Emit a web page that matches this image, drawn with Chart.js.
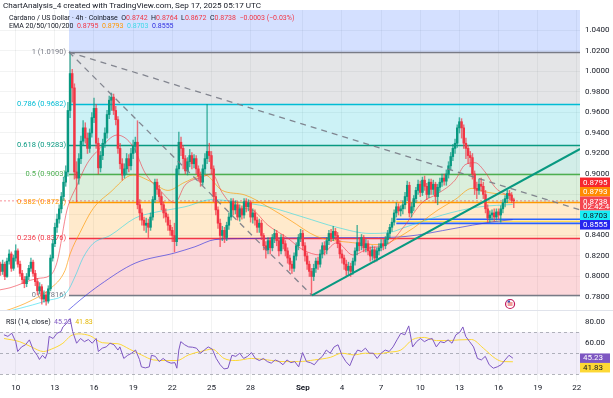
<!DOCTYPE html>
<html>
<head>
<meta charset="utf-8">
<script src="https://cdn.jsdelivr.net/npm/chart.js@4.4.1/dist/chart.umd.min.js"></script>
<style>
  body { margin: 0; background: #fff; overflow: hidden; font-family: Roboto, "Liberation Sans", sans-serif; }
  #wrap { position: relative; width: 613px; height: 398px; }
  #mainChart { position: absolute; left: 0; top: 0; }
  #rsiChart { position: absolute; left: 0; top: 310px; }
  .t { position: absolute; white-space: nowrap; color: #131722; line-height: 10px; }
  .dn { color: #f23645; }
</style>
</head>
<body>
<div id="wrap">
  <canvas id="mainChart" width="613" height="310"></canvas>
  <canvas id="rsiChart" width="613" height="88"></canvas>
  <div class="t" style="left:3px;top:0px;font-size:8.1px;">ChartAnalysis_4 created with TradingView.com, Sep 17, 2025 05:17 UTC</div>
  <div class="t" style="left:9px;top:12.5px;font-size:7px;">Cardano / US Dollar · 4h · Coinbase&nbsp; O<span class="dn">0.8742</span>&nbsp; H<span class="dn">0.8764</span>&nbsp; L<span class="dn">0.8672</span>&nbsp; C<span class="dn">0.8738</span>&nbsp; <span class="dn">−0.0003 (−0.03%)</span></div>
  <div class="t" style="left:9px;top:21px;font-size:7px;">EMA 20/50/100/200&nbsp; <span style="color:#f23645">0.8795</span>&nbsp; <span style="color:#ff9800">0.8793</span>&nbsp; <span style="color:#3fd8e8">0.8703</span>&nbsp; <span style="color:#2e2ee0">0.8555</span></div>
  <div class="t" style="left:6px;top:316.5px;font-size:7px;">RSI (14, close)&nbsp; <span style="color:#7e57c2">45.23</span>&nbsp; <span style="color:#e3b600">41.83</span></div>
</div>

<script>
// candle index 0 = Aug 10 00:00 (4h candles), first candle is index -7
const firstIndex = -7;
const firstOpen = 0.812;
const closes = [
  .805,.812,.800,.815,.822,.808,.818,.825,.812,.803,
  .797,.793,.800,.808,.814,.803,.795,.786,.790,.778,
  .782,.776,.788,.818,.832,.848,.856,.866,.878,.892,
  .902,.962,.998,.984,.902,.896,.915,.932,.945,.935,
  .925,.940,.955,.964,.930,.906,.918,.930,.940,.958,
  .972,.975,.962,.953,.925,.910,.899,.905,.915,.908,
  .920,.927,.931,.870,.862,.855,.850,.852,.848,.858,
  .875,.892,.885,.878,.870,.862,.858,.850,.845,.840,
  .834,.905,.931,.925,.915,.903,.912,.918,.910,.915,
  .905,.898,.892,.905,.915,.922,.918,.905,.878,.865,
  .852,.840,.845,.838,.850,.858,.873,.865,.870,.858,
  .866,.860,.873,.868,.872,.858,.862,.855,.848,.852,
  .840,.830,.826,.835,.828,.838,.842,.835,.825,.838,
  .832,.825,.818,.812,.808,.820,.830,.838,.842,.830,
  .820,.812,.805,.800,.808,.815,.812,.822,.830,.826,
  .835,.842,.838,.844,.840,.832,.822,.818,.812,.806,
  .810,.805,.815,.825,.833,.830,.838,.828,.832,.825,
  .820,.826,.818,.825,.828,.832,.830,.836,.842,.848,
  .853,.862,.868,.864,.866,.870,.878,.889,.862,.868,
  .876,.884,.890,.882,.894,.888,.880,.892,.885,.890,
  .878,.887,.892,.896,.893,.900,.908,.917,.925,.930,
  .945,.951,.945,.930,.925,.918,.916,.900,.886,.884,
  .890,.888,.880,.866,.857,.860,.862,.858,.863,.860,
  .866,.872,.876,.881,.879,.8742,.8738
];
const highs = [
  .814,.816,.814,.818,.826,.824,.821,.831,.827,.815,
  .806,.800,.803,.811,.818,.816,.806,.798,.794,.792,
  .786,.785,.791,.821,.836,.852,.861,.870,.882,.897,
  .908,.970,1.019,1.002,.988,.912,.920,.937,.952,.950,
  .940,.944,.960,.974,.968,.935,.922,.934,.945,.962,
  .976,.979,.978,.966,.956,.930,.915,.910,.920,.919,
  .925,.933,.936,.952,.875,.866,.858,.857,.856,.862,
  .878,.895,.895,.889,.882,.873,.866,.861,.855,.848,
  .852,.908,.941,.936,.928,.918,.916,.924,.921,.919,
  .918,.908,.902,.909,.920,.968,.930,.922,.908,.882,
  .868,.856,.849,.848,.853,.862,.876,.876,.874,.873,
  .870,.869,.876,.876,.875,.874,.866,.865,.858,.856,
  .855,.842,.834,.838,.838,.841,.846,.845,.838,.841,
  .841,.835,.828,.821,.815,.823,.833,.841,.846,.845,
  .833,.823,.815,.808,.812,.818,.819,.826,.833,.834,
  .838,.845,.846,.849,.847,.843,.835,.826,.821,.816,
  .814,.813,.818,.828,.850,.838,.841,.840,.836,.835,
  .829,.830,.829,.828,.832,.836,.836,.839,.845,.851,
  .857,.865,.872,.871,.869,.874,.882,.893,.892,.872,
  .879,.887,.894,.893,.897,.898,.891,.895,.895,.894,
  .892,.890,.896,.900,.900,.904,.912,.921,.929,.934,
  .948,.955,.954,.948,.935,.928,.922,.920,.903,.892,
  .895,.896,.892,.884,.870,.864,.865,.866,.866,.866,
  .869,.875,.879,.884,.884,.882,.8764
];
const lows = [
  .801,.802,.797,.799,.812,.805,.806,.815,.809,.800,
  .793,.789,.790,.797,.805,.800,.791,.782,.783,.773,
  .775,.772,.774,.786,.815,.829,.843,.852,.862,.874,
  .888,.898,.955,.970,.895,.873,.890,.910,.928,.930,
  .920,.921,.936,.950,.925,.900,.902,.914,.926,.935,
  .954,.962,.958,.948,.920,.905,.894,.896,.900,.902,
  .904,.915,.921,.866,.855,.850,.845,.843,.838,.845,
  .855,.872,.880,.873,.865,.857,.853,.845,.840,.834,
  .824,.830,.900,.918,.905,.900,.899,.907,.905,.906,
  .900,.893,.888,.889,.900,.910,.912,.900,.873,.860,
  .847,.829,.835,.833,.835,.846,.855,.860,.861,.855,
  .854,.856,.857,.863,.864,.853,.852,.850,.843,.843,
  .836,.826,.818,.822,.822,.825,.833,.830,.820,.822,
  .827,.820,.813,.806,.803,.805,.816,.826,.834,.826,
  .815,.807,.800,.782,.796,.804,.807,.809,.818,.821,
  .822,.831,.834,.835,.836,.828,.818,.813,.807,.801,
  .802,.800,.802,.811,.821,.825,.826,.824,.824,.821,
  .815,.816,.814,.815,.821,.825,.826,.827,.832,.838,
  .844,.850,.858,.860,.859,.861,.866,.874,.858,.858,
  .864,.872,.880,.878,.879,.884,.875,.877,.880,.880,
  .872,.870,.883,.888,.889,.889,.896,.904,.913,.920,
  .926,.940,.935,.925,.915,.910,.907,.895,.880,.876,
  .880,.883,.876,.862,.853,.853,.855,.854,.855,.856,
  .853,.862,.868,.872,.875,.872,.8672
];

// EMA lines as [candle index, price]
const ema20 = [[-7.2,.787],[-2.6,.789],[9.8,.798],[15.8,.801],[19,.814],[23.6,.865],[28.2,.889],[32.8,.910],[38.8,.925],[46.6,.938],[53.9,.927],[59.5,.901],[66.4,.884],[73.2,.872],[77.8,.889],[85.7,.897],[90.3,.900],[94.9,.882],[100.8,.868],[108.6,.865],[116,.850],[124.7,.838],[132.1,.826],[140,.821],[147.7,.833],[155,.821],[162.9,.828],[170.7,.831],[179,.850],[186.8,.872],[194.2,.881],[202,.894],[206.6,.909],[211.2,.911],[215.8,.902],[220.4,.887],[225,.8805],[228.5,.8795]];
const ema50 = [[-7.2,.765],[-2.6,.768],[6.6,.776],[15.8,.788],[22.7,.806],[25,.822],[29.6,.843],[35.5,.866],[43.4,.882],[53.9,.899],[61.8,.893],[70,.884],[77.8,.892],[87,.899],[94.9,.884],[105.4,.8795],[116,.868],[126.1,.855],[138.5,.839],[155,.833],[167.5,.831],[179,.842],[194.2,.865],[202,.875],[209.8,.886],[217.2,.882],[228.5,.8793]];
const ema100 = [[-7.2,.764],[2,.769],[13.5,.776],[23.6,.785],[27.3,.800],[30.9,.818],[35.5,.832],[43.4,.840],[54.9,.857],[62.7,.862],[77.8,.868],[90.3,.875],[100.8,.873],[116,.868],[132.1,.858],[147.7,.848],[162.9,.842],[172,.843],[179,.848],[185.9,.853],[199.7,.862],[213.5,.868],[228.5,.8703]];
const ema200 = [[23.6,.766],[29.6,.777],[38.8,.792],[54.9,.813],[73.2,.823],[82.4,.829],[91.6,.836],[105.4,.837],[139.9,.838],[162.9,.838],[179,.839],[202,.847],[218.1,.853],[228.5,.8555]];

// RSI (14) and its moving average, as [candle index, value]
const rsi = [[-5.4,67.5],[-3.6,66],[-1.8,69],[0,61],[0.9,51.6],[2.7,56],[4.5,58],[6.3,62.7],[8.1,53],[9.9,48],[10.9,44],[12.3,48],[13.6,45],[14.5,50],[15.4,66],[17.2,64],[19,69],[20.8,70.6],[21.7,75],[23.5,78.6],[25,83],[26.2,70.6],[28,59.5],[29.8,64],[31.6,61],[33.4,63],[35.2,59.5],[37,64],[38,51.6],[39.8,54.8],[41.6,56],[43.4,59.5],[45.2,58],[47,53],[47.9,56],[49.7,45],[51.5,48],[53.3,50],[55.1,53],[56.9,44],[57.8,37],[59.6,36],[61.4,37],[62.4,48],[64.2,47],[66,42],[67.8,45],[69.6,42],[71.4,40.5],[73.2,41],[74.1,35.7],[75,53],[75.9,61],[77.7,58],[79.5,56],[81.3,55.7],[83.1,54.8],[85,50],[86.7,53],[88.5,56],[90.4,53.8],[92.2,45],[94,39],[95.8,35],[97.6,35.7],[99.4,48],[101.2,47],[103,50],[104.8,45],[106.6,47],[108.4,50.6],[110.2,45],[112,43],[113.9,45],[115.7,42],[117.5,40.5],[119.3,43.6],[121.1,42],[122.9,39],[124.7,43.6],[126.5,41],[128.3,42],[130.1,37],[131.9,50.6],[133.7,42],[135.5,41],[137.3,39],[139.1,43.6],[141,47],[142.8,53],[144.6,50],[146.4,56],[148.2,58],[150,48],[151.8,42],[153.6,38],[155.4,47],[157.2,53],[159,51.6],[160.8,54.8],[162.6,50],[164.4,50],[166.2,45],[168,50],[169.9,53],[171.7,51.6],[173.5,56],[175.3,62.7],[177.1,69],[178.9,67.5],[180.7,76],[182.5,56],[184.3,61],[186.1,64],[187.9,61],[189.7,63],[191.5,64],[193.4,56],[195.2,61],[197,60],[198.8,62.7],[200.6,59.5],[202.4,67.5],[204.2,70],[205.6,75],[206.9,66],[208.7,61],[210.5,56],[212.3,45],[214.1,43.6],[215.9,47],[217.7,39],[219.6,35.7],[221.4,37],[223.2,39],[225,43.6],[226.8,48],[228.6,45.23]];
const rsiMa = [[-5.4,64],[1.8,61],[7.2,56],[12.7,51.6],[16.3,53.8],[21.7,59.5],[25.3,66.5],[28.9,68.4],[34.3,66.5],[39.8,60],[47,59],[52.4,53.8],[57.8,48.4],[63.3,43.6],[68.7,43],[74.1,43],[79.5,48.4],[85,51.6],[90.4,53.8],[95.8,45],[101.2,43],[108.4,45],[115.7,43.6],[122.9,42],[130.1,42],[137.3,43.6],[144.6,46],[150,50],[155.4,48.4],[160.8,50],[166.2,49.4],[171.7,51],[177.1,53],[182.5,63],[187.9,65],[193.4,62],[198.8,62],[204.2,62.7],[209.6,63],[215,54.8],[220.5,45],[224.1,42],[228.6,41.83]];

// fibonacci retracement drawn from the Aug 14 high to the Aug 31 low
const fibStart = 24.5;
const fibRatios = ["1", "0.786", "0.618", "0.5", "0.382", "0.236", "0"];
const fibPrices = [1.019, 0.9682, 0.9283, 0.9003, 0.8723, 0.8376, 0.7816];
const fibColors = ["#787b86", "#00bcd4", "#089981", "#4caf50", "#ff9800", "#f23645", "#787b86"];
const zoneColors = ["rgba(120,123,134,0.2)", "rgba(0,188,212,0.2)", "rgba(8,153,129,0.18)", "rgba(76,175,80,0.2)", "rgba(255,152,0,0.2)", "rgba(242,54,69,0.2)"];

const dashLineA = [[24.5, 1.019], [136.2, 0.7816]];
const dashLineB = [[24.5, 1.019], [259.5, 0.865]];
const trendLine = [[136.2, 0.7816], [259.5, 0.9244]];
const supportStart = 175;
const supportLevels = [0.8558, 0.8538, 0.8518];

const priceTicks = [0.78,0.80,0.82,0.84,0.86,0.88,0.90,0.92,0.94,0.96,0.98,1.00,1.02,1.04];
const rsiTicks = [60, 80];
const dayTicks = [0, 18, 36, 54, 72, 90, 108, 132, 150, 168, 186, 204, 222, 240, 258];
const dayLabels = ["10", "13", "16", "19", "22", "25", "28", "Sep", "4", "7", "10", "13", "16", "19", "22"];

const lastPrice = 0.8738;
const priceBoxes = [
  { v: 0.8795, bg: "#f7262e", fg: "#fff" },
  { v: 0.8793, bg: "#ff8a00", fg: "#fff" },
  { v: 0.8738, bg: "#f4444f", fg: "#fff", sub: "02:42:44" },
  { v: 0.8703, bg: "#18eef5", fg: "#131722" },
  { v: 0.8555, bg: "#2525ee", fg: "#fff" },
];
const rsiBoxes = [
  { v: 45.23, bg: "#7e57c2", fg: "#fff" },
  { v: 41.83, bg: "#fdd835", fg: "#131722" },
];

const UP = "#089981";
const DOWN = "#f23645";
const X_MIN = -7.218;
const X_MAX = 259.45;
const AXIS_W = 33;
const FONT = "Roboto, 'Liberation Sans', sans-serif";

Chart.defaults.font.family = FONT;
Chart.defaults.color = "#131722";

const opens = closes.map((c, k) => (k === 0 ? firstOpen : closes[k - 1]));
const idx = closes.map((c, k) => firstIndex + k);
const pts = (arr) => arr.map(([x, y]) => ({ x, y }));

// stack axis label boxes so they do not overlap (like the price scale does)
// anchorTop: the first box keeps its place and the rest are pushed below it
function stackBoxes(items, anchorTop) {
  if (anchorTop) {
    let t = items[0].y - items[0].h / 2;
    items.forEach((it) => { it.top = Math.max(t, it.y - it.h / 2); t = it.top + it.h; });
    return;
  }
  let groups = items.map((it) => ({ items: [it], c: it.y, h: it.h }));
  let merged = true;
  while (merged) {
    merged = false;
    groups.sort((a, b) => a.c - b.c);
    for (let k = 0; k < groups.length - 1; k++) {
      const g1 = groups[k], g2 = groups[k + 1];
      if (g1.c + g1.h / 2 > g2.c - g2.h / 2) {
        const all = [...g1.items, ...g2.items].sort((a, b) => a.y - b.y);
        const c = all.reduce((s, it) => s + it.y, 0) / all.length;
        groups.splice(k, 2, { items: all, c, h: g1.h + g2.h });
        merged = true;
        break;
      }
    }
  }
  groups.forEach((g) => {
    let t = g.c - g.h / 2;
    g.items.forEach((it) => { it.top = t; t += it.h; });
  });
}

// axis tick labels are drawn here so the scale adds no label padding to the pane
function drawAxisLabels(chart, ticks, digits) {
  const { ctx, chartArea: a, scales: { y } } = chart;
  ctx.save();
  ctx.font = "8px " + FONT;
  ctx.fillStyle = "#131722";
  ctx.textBaseline = "middle";
  ticks.forEach((v) => ctx.fillText(v.toFixed(digits), a.right + 5, y.getPixelForValue(v)));
  ctx.restore();
}

function drawBoxes(chart, boxes, digits, anchorTop) {
  const { ctx, chartArea: a, scales: { y } } = chart;
  const items = boxes.map((b) => ({ ...b, h: b.sub ? 14 : 9.5, y: y.getPixelForValue(b.v) + (b.sub ? 2.5 : 0) }));
  stackBoxes(items, anchorTop);
  ctx.save();
  ctx.font = "8px " + FONT;
  ctx.textBaseline = "middle";
  items.forEach((b) => {
    ctx.fillStyle = b.bg;
    ctx.fillRect(a.right, b.top, 30, b.h);
    ctx.fillStyle = b.fg;
    ctx.fillText(b.v.toFixed(digits), a.right + 3, b.top + 5);
    if (b.sub) ctx.fillText(b.sub, a.right + 3, b.top + 10.5);
  });
  ctx.restore();
}

const fibPlugin = {
  id: "fib",
  beforeDatasetsDraw(chart) {
    const { ctx, chartArea: a, scales: { x, y } } = chart;
    const x0 = x.getPixelForValue(fibStart);
    ctx.save();
    ctx.beginPath();
    ctx.rect(a.left, a.top, a.right - a.left, a.bottom - a.top);
    ctx.clip();
    ctx.fillStyle = "rgba(41,98,255,0.2)";
    ctx.fillRect(x0, a.top, a.right - x0, y.getPixelForValue(fibPrices[0]) - a.top);
    for (let k = 0; k < zoneColors.length; k++) {
      const y1 = y.getPixelForValue(fibPrices[k]);
      const y2 = y.getPixelForValue(fibPrices[k + 1]);
      ctx.fillStyle = zoneColors[k];
      ctx.fillRect(x0, y1, a.right - x0, y2 - y1);
    }
    ctx.lineWidth = 1.5;
    ctx.font = "7.5px " + FONT;
    ctx.textAlign = "right";
    ctx.textBaseline = "middle";
    fibPrices.forEach((p, k) => {
      const py = Math.round(y.getPixelForValue(p)) + 0.5;
      ctx.strokeStyle = fibColors[k];
      ctx.beginPath();
      ctx.moveTo(x0, py);
      ctx.lineTo(a.right, py);
      ctx.stroke();
      ctx.fillStyle = fibColors[k];
      ctx.fillText(fibRatios[k] + " (" + p.toFixed(4) + ")", x0 - 3, py);
    });
    // last price line
    const lp = y.getPixelForValue(lastPrice);
    ctx.strokeStyle = "rgba(242,54,69,0.55)";
    ctx.lineWidth = 1;
    ctx.setLineDash([2, 2]);
    ctx.beginPath();
    ctx.moveTo(a.left, lp);
    ctx.lineTo(a.right, lp);
    ctx.stroke();
    ctx.restore();
  },
  afterDraw(chart) {
    const { ctx, chartArea: a, scales: { x } } = chart;
    // white header strip above the pane
    ctx.save();
    ctx.fillStyle = "#fff";
    ctx.fillRect(0, 0, chart.width, a.top);
    // event marker near the bottom of the pane
    const mx = x.getPixelForValue(227.3);
    ctx.beginPath();
    ctx.arc(mx, a.bottom - 6, 4.5, 0, Math.PI * 2);
    ctx.fillStyle = "#fff";
    ctx.fill();
    ctx.lineWidth = 1.2;
    ctx.strokeStyle = "#c2185b";
    ctx.stroke();
    ctx.fillStyle = "#e53935";
    ctx.fillRect(mx - 2.5, a.bottom - 7.5, 5, 1);
    ctx.fillRect(mx - 2.5, a.bottom - 5.5, 5, 1);
    ctx.fillStyle = "#3f51b5";
    ctx.fillRect(mx - 2.5, a.bottom - 9.5, 2.5, 2);
    ctx.restore();
    drawAxisLabels(chart, priceTicks, 4);
    drawBoxes(chart, priceBoxes, 4, false);
  },
};

const rsiPlugin = {
  id: "rsiBands",
  beforeDatasetsDraw(chart) {
    const { ctx, chartArea: a, scales: { y } } = chart;
    const y70 = y.getPixelForValue(70), y50 = y.getPixelForValue(50), y30 = y.getPixelForValue(30);
    ctx.save();
    ctx.fillStyle = "rgba(126,87,194,0.1)";
    ctx.fillRect(a.left, y70, a.right - a.left, y30 - y70);
    ctx.strokeStyle = "rgba(120,123,134,0.55)";
    ctx.lineWidth = 1;
    ctx.setLineDash([3, 3]);
    [y70, y50, y30].forEach((py) => {
      ctx.beginPath();
      ctx.moveTo(a.left, Math.round(py) + 0.5);
      ctx.lineTo(a.right, Math.round(py) + 0.5);
      ctx.stroke();
    });
    ctx.restore();
  },
  afterDraw(chart) {
    const { ctx } = chart;
    ctx.save();
    ctx.strokeStyle = "#e0e3eb";
    ctx.beginPath();
    ctx.moveTo(0, 0.5);
    ctx.lineTo(chart.width, 0.5);
    ctx.stroke();
    ctx.restore();
    drawAxisLabels(chart, rsiTicks, 2);
    drawBoxes(chart, rsiBoxes, 2, true);
  },
};

const gridColor = "rgba(42,46,57,0.06)";

new Chart(document.getElementById("mainChart"), {
  type: "bar",
  data: {
    datasets: [
      {
        type: "line", order: 0, data: pts(trendLine), borderColor: "#089981", borderWidth: 2, pointRadius: 0,
      },
      {
        type: "line", order: 0, data: pts(dashLineA), borderColor: "rgba(120,123,134,0.9)", borderWidth: 1.3, borderDash: [6, 5], pointRadius: 0,
      },
      {
        type: "line", order: 0, data: pts(dashLineB), borderColor: "rgba(120,123,134,0.9)", borderWidth: 1.3, borderDash: [6, 5], pointRadius: 0,
      },
      {
        label: "bodies", order: 1, grouped: false, barThickness: 1.8, minBarLength: 1,
        data: idx.map((i, k) => ({ x: i, y: [opens[k], closes[k]] })),
        backgroundColor: closes.map((c, k) => (c >= opens[k] ? UP : DOWN)),
      },
      {
        label: "wicks", order: 2, grouped: false, barThickness: 0.8,
        data: idx.map((i, k) => ({ x: i, y: [lows[k], highs[k]] })),
        backgroundColor: closes.map((c, k) => (c >= opens[k] ? "rgba(8,153,129,0.7)" : "rgba(242,54,69,0.7)")),
      },
      { type: "line", order: 3, data: pts(ema20), borderColor: "rgba(242,54,69,0.6)", borderWidth: 1, pointRadius: 0, cubicInterpolationMode: "monotone" },
      { type: "line", order: 3, data: pts(ema50), borderColor: "rgba(255,152,0,0.65)", borderWidth: 1, pointRadius: 0, cubicInterpolationMode: "monotone" },
      { type: "line", order: 3, data: pts(ema100), borderColor: "rgba(0,214,235,0.5)", borderWidth: 1, pointRadius: 0, cubicInterpolationMode: "monotone" },
      { type: "line", order: 3, data: pts(ema200), borderColor: "rgba(50,50,225,0.65)", borderWidth: 1, pointRadius: 0, cubicInterpolationMode: "monotone" },
      ...supportLevels.map((v, k) => ({
        type: "line", order: 4,
        data: [{ x: supportStart, y: v }, { x: X_MAX, y: v }],
        borderColor: k === 1 ? "#fdd835" : "#2962ff", borderWidth: k === 1 ? 1 : 1.6, pointRadius: 0,
      })),
    ],
  },
  options: {
    responsive: false,
    animation: false,
    events: [],
    layout: { padding: { top: 10, left: 0, right: 0, bottom: 0 } },
    plugins: { legend: { display: false }, tooltip: { enabled: false } },
    scales: {
      x: {
        type: "linear", min: X_MIN, max: X_MAX, offset: false,
        grid: { color: gridColor, offset: false, drawTicks: false },
        border: { display: false },
        ticks: { display: false },
        afterBuildTicks: (s) => { s.ticks = dayTicks.map((v) => ({ value: v })); },
        afterFit: (s) => { s.height = 0; },
      },
      y: {
        position: "right", min: 0.767317, max: 1.06,
        grid: { color: gridColor, drawTicks: false },
        border: { display: false },
        ticks: { display: false },
        afterBuildTicks: (s) => { s.ticks = priceTicks.map((v) => ({ value: v })); },
        afterFit: (s) => { s.width = AXIS_W; },
      },
    },
  },
  plugins: [fibPlugin],
});

new Chart(document.getElementById("rsiChart"), {
  type: "line",
  data: {
    datasets: [
      { data: pts(rsi), borderColor: "#7e57c2", borderWidth: 1, pointRadius: 0, tension: 0 },
      { data: pts(rsiMa), borderColor: "#fdd835", borderWidth: 1, pointRadius: 0, cubicInterpolationMode: "monotone" },
    ],
  },
  options: {
    responsive: false,
    animation: false,
    events: [],
    layout: { padding: 0 },
    plugins: { legend: { display: false }, tooltip: { enabled: false } },
    scales: {
      x: {
        type: "linear", min: X_MIN, max: X_MAX,
        grid: { color: gridColor, drawTicks: false },
        border: { display: false },
        ticks: {
          padding: 2, maxRotation: 0, autoSkip: false, color: "#131722",
          font: (c) => ({ size: 8, weight: c.tick && c.tick.value === 132 ? "bold" : "normal" }),
          callback: (v) => dayLabels[dayTicks.indexOf(v)] || "",
        },
        afterBuildTicks: (s) => { s.ticks = dayTicks.map((v) => ({ value: v })); },
        afterFit: (s) => { s.height = 17; },
      },
      y: {
        position: "right", min: 23.52, max: 91.14,
        grid: { display: false },
        border: { display: false },
        ticks: { display: false },
        afterBuildTicks: (s) => { s.ticks = rsiTicks.map((v) => ({ value: v })); },
        afterFit: (s) => { s.width = AXIS_W; },
      },
    },
  },
  plugins: [rsiPlugin],
});
</script>
</body>
</html>
